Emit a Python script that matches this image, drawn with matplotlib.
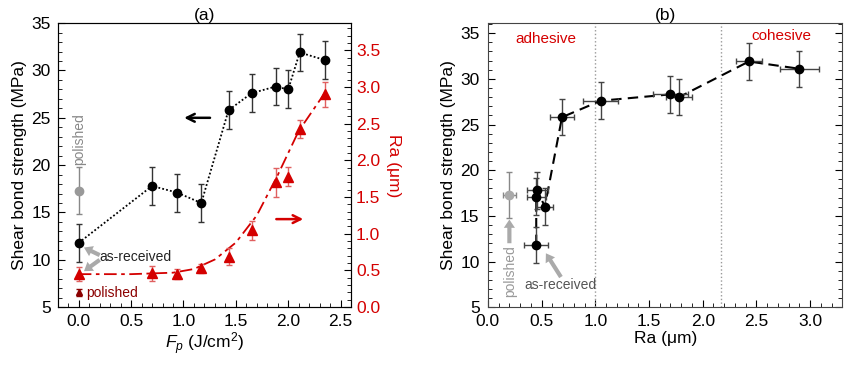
import matplotlib
matplotlib.use('Agg')
import matplotlib.pyplot as plt
import numpy as np
from matplotlib.ticker import MultipleLocator

plt.rcParams['font.family'] = ['Liberation Sans', 'DejaVu Sans']
plt.rcParams['mathtext.fontset'] = 'custom'
plt.rcParams['mathtext.rm'] = 'Liberation Sans'
plt.rcParams['mathtext.it'] = 'Liberation Sans:italic'

# data
fp = [0.0, 0.70, 0.94, 1.17, 1.43, 1.65, 1.88, 2.00, 2.11, 2.35]
sbs = [11.8, 17.8, 17.1, 16.0, 25.8, 27.6, 28.3, 28.0, 31.9, 31.1]
sbs_err = [2.0, 2.0, 2.0, 2.0, 2.0, 2.0, 2.0, 2.0, 2.0, 2.0]
ra = [0.45, 0.46, 0.45, 0.53, 0.69, 1.05, 1.70, 1.78, 2.43, 2.90]
ra_err = [0.10, 0.10, 0.07, 0.06, 0.12, 0.13, 0.20, 0.13, 0.12, 0.17]
ra_xerr = [0.11, 0.10, 0.09, 0.08, 0.11, 0.16, 0.16, 0.12, 0.12, 0.18]
sbs_pol = 17.3
sbs_pol_err = 2.5
ra_pol = 0.2
ra_pol_err = 0.05
fit_x = [0.0, 0.5, 0.9, 1.1, 1.3, 1.5, 1.7, 1.9, 2.1, 2.35]
fit_y = [0.45, 0.45, 0.47, 0.52, 0.65, 0.88, 1.25, 1.8, 2.4, 2.92]

red = '#d40000'
dred = '#8b0000'
fs = 12.5
lfs = 12.5
afs = 10

fig = plt.figure(figsize=(8.5, 3.67), dpi=100)

# ---- (a)
ax = fig.add_axes([0.068, 0.163, 0.345, 0.774])
ax.plot(fp, sbs, color='black', ls=(0, (1, 1.2)), lw=1.3, zorder=3)
ax.errorbar(fp, sbs, yerr=sbs_err, fmt='o', color='black', ms=6,
            ecolor='#333333', elinewidth=1, capsize=2.5, zorder=4)
ax.errorbar([0.0], [sbs_pol], yerr=[sbs_pol_err], fmt='o', color='#999999', ms=6,
            ecolor='#888888', elinewidth=1, capsize=2.5, zorder=4)
ax.set_xlim(-0.2, 2.6)
ax.set_ylim(5, 35)
ax.xaxis.set_major_locator(MultipleLocator(0.5))
ax.xaxis.set_minor_locator(MultipleLocator(0.1))
ax.yaxis.set_major_locator(MultipleLocator(5))
ax.yaxis.set_minor_locator(MultipleLocator(1))
ax.tick_params(which='both', direction='in', labelsize=fs, top=False, right=False)
ax.tick_params(which='major', length=5)
ax.tick_params(which='minor', length=3)
ax.tick_params(axis='y', pad=5)
ax.tick_params(axis='x', pad=5)
ax.xaxis.set_major_formatter(matplotlib.ticker.FormatStrFormatter('%.1f'))
ax.set_xlabel(r'$F_p$ (J/cm$^2$)', fontsize=lfs, labelpad=1)
ax.set_ylabel('Shear bond strength (MPa)', fontsize=lfs, labelpad=3)
ax.set_title('(a)', fontsize=fs, pad=2)
for sp in ax.spines.values():
    sp.set_color('#444444')

ax2 = ax.twinx()
ax2.plot(fit_x, fit_y, color=red, ls=(0, (7, 2.5, 2, 2.5)), lw=1.3, zorder=2)
ax2.errorbar(fp, ra, yerr=ra_err, fmt='^', color=red, ms=6.5,
             ecolor='#e06060', elinewidth=1, capsize=2.5, zorder=3)
ax2.errorbar([0.0], [ra_pol], yerr=[ra_pol_err], fmt='^', color=dred, ms=5,
             ecolor=dred, elinewidth=1, capsize=2, zorder=3)
ax2.set_ylim(0, 3.87)
ax2.yaxis.set_major_locator(MultipleLocator(0.5))
ax2.yaxis.set_minor_locator(MultipleLocator(0.1))
ax2.tick_params(which='both', direction='in', labelsize=fs, labelcolor=red)
ax2.tick_params(which='major', length=5)
ax2.tick_params(which='minor', length=3)
ax2.yaxis.set_major_formatter(matplotlib.ticker.FormatStrFormatter('%.1f'))
ax2.set_ylabel('Ra (\u03bcm)', color=red, fontsize=lfs, rotation=270, labelpad=15)

ax.text(0.0, 22.7, 'polished', rotation=90, color='#888888', fontsize=afs,
        ha='center', va='center')
ax.text(0.2, 10.3, 'as-received', color='#222222', fontsize=afs, ha='left', va='center')
ax.text(0.07, 6.5, 'polished', color=dred, fontsize=afs, ha='left', va='center')
gprops = dict(facecolor='#aaaaaa', edgecolor='none', width=3, headwidth=8, headlength=6)
ax.annotate('', xy=(0.05, 11.3), xytext=(0.2, 10.5), arrowprops=gprops)
ax.annotate('', xy=(0.05, 8.8), xytext=(0.2, 10.0), arrowprops=gprops)
ax.annotate('', xy=(0.98, 25.0), xytext=(1.28, 25.0),
            arrowprops=dict(arrowstyle='->', color='black', lw=1.8, mutation_scale=14))
ax.annotate('', xy=(2.17, 14.3), xytext=(1.86, 14.3),
            arrowprops=dict(arrowstyle='->', color=red, lw=1.8, mutation_scale=14))

# ---- (b)
bx = fig.add_axes([0.574, 0.163, 0.417, 0.774])
order = np.argsort(ra, kind='stable')
bx.plot(np.array(ra)[order], np.array(sbs)[order], color='black',
        ls=(0, (5, 3)), lw=1.5, zorder=3)
bx.errorbar(ra, sbs, yerr=sbs_err, xerr=ra_xerr, fmt='o', color='black', ms=6,
            ecolor='#444444', elinewidth=1, capsize=2.5, zorder=4)
bx.errorbar([ra_pol], [sbs_pol], yerr=[sbs_pol_err], xerr=[0.06], fmt='o',
            color='#aaaaaa', ms=6, ecolor='#888888', elinewidth=1, capsize=2.5, zorder=4)
bx.axvline(1.0, color='#999999', ls=':', lw=1)
bx.axvline(2.17, color='#999999', ls=':', lw=1)
bx.set_xlim(0, 3.3)
bx.set_ylim(5, 36.1)
bx.xaxis.set_major_locator(MultipleLocator(0.5))
bx.xaxis.set_minor_locator(MultipleLocator(0.1))
bx.yaxis.set_major_locator(MultipleLocator(5))
bx.yaxis.set_minor_locator(MultipleLocator(1))
bx.tick_params(which='both', direction='in', labelsize=fs, top=False, right=True)
bx.tick_params(which='major', length=5)
bx.tick_params(which='minor', length=3)
bx.tick_params(axis='y', pad=6)
bx.tick_params(axis='x', pad=5)
bx.xaxis.set_major_formatter(matplotlib.ticker.FormatStrFormatter('%.1f'))
bx.set_xlabel('Ra (\u03bcm)', fontsize=lfs, labelpad=1)
bx.set_ylabel('Shear bond strength (MPa)', fontsize=lfs, labelpad=3)
bx.set_title('(b)', fontsize=fs, pad=2)
for sp in bx.spines.values():
    sp.set_color('#444444')

bx.text(0.54, 34.4, 'adhesive', color=red, fontsize=11, ha='center', va='center')
bx.text(2.73, 34.7, 'cohesive', color=red, fontsize=11, ha='center', va='center')
bx.text(0.34, 7.4, 'as-received', color='#555555', fontsize=afs, ha='left', va='center')
bx.text(0.21, 9.0, 'polished', rotation=90, color='#999999', fontsize=afs,
        ha='center', va='center')
bx.annotate('', xy=(0.2, 14.6), xytext=(0.2, 12.0), arrowprops=gprops)
bx.annotate('', xy=(0.54, 10.9), xytext=(0.68, 8.3), arrowprops=gprops)

fig.savefig('out.png', dpi=100)
